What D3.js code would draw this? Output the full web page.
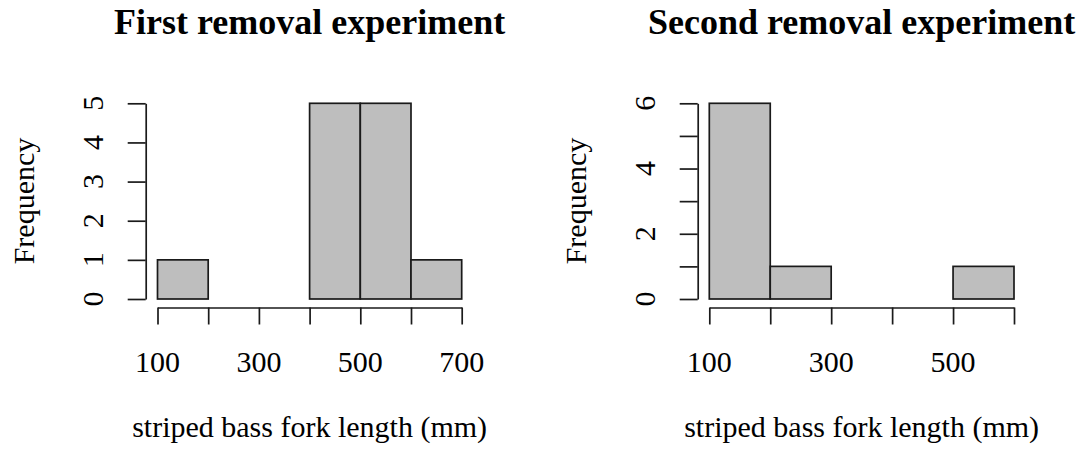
<!DOCTYPE html>
<html>
<head>
<meta charset="utf-8">
<script src="https://cdn.jsdelivr.net/npm/d3@7"></script>
<style>
  body { margin: 0; background: #fff; }
  text { font-family: "Liberation Serif", "Times New Roman", serif; fill: #000; }
</style>
</head>
<body>
<script>
// histogram data
var breaks1 = [100, 200, 300, 400, 500, 600, 700];
var counts1 = [1, 0, 0, 5, 5, 1];
var xTicks1 = [100, 200, 300, 400, 500, 600, 700];
var xLabels1 = [100, 300, 500, 700];
var yTicks1 = [0, 1, 2, 3, 4, 5];
var yLabels1 = [0, 1, 2, 3, 4, 5];

var breaks2 = [100, 200, 300, 400, 500, 600];
var counts2 = [6, 1, 0, 0, 1];
var xTicks2 = [100, 200, 300, 400, 500, 600];
var xLabels2 = [100, 300, 500];
var yTicks2 = [0, 1, 2, 3, 4, 5, 6];
var yLabels2 = [0, 2, 4, 6];

var titles = ['First removal experiment', 'Second removal experiment'];
var xTitle = 'striped bass fork length (mm)';
var yTitle = 'Frequency';

var w = 1085, h = 456;
var lineW = 1.7;

var svg = d3.select('body')
  .append('svg')
  .attr('width', w)
  .attr('height', h);

var drawHist = function(opt){
  var xScale = d3.scaleLinear()
    .domain([opt.breaks[0], opt.breaks[opt.breaks.length - 1]])
    .range([opt.x0, opt.x1]);
  var yScale = d3.scaleLinear()
    .domain([0, d3.max(opt.yTicks)])
    .range([299, 103.3]);

  var g = svg.append('g');

  var bins = opt.counts.map(function(c, i){
    return {x0: opt.breaks[i], x1: opt.breaks[i + 1], n: c};
  });

  g.selectAll('rect')
    .data(bins)
    .enter()
    .append('rect')
    .attr('x', function(d){ return xScale(d.x0); })
    .attr('y', function(d){ return yScale(d.n); })
    .attr('width', function(d){ return xScale(d.x1) - xScale(d.x0); })
    .attr('height', function(d){ return yScale(0) - yScale(d.n); })
    .attr('fill', '#bebebe')
    .attr('stroke', '#1a1a1a')
    .attr('stroke-width', lineW);

  // x axis, R style: line only from first to last tick
  var xAxisY = 307.5;
  var xAxis = d3.axisBottom(xScale)
    .tickValues(opt.xTicks)
    .tickSize(17)
    .tickSizeOuter(0)
    .tickFormat('');
  g.append('g')
    .attr('transform', 'translate(0,' + xAxisY + ')')
    .call(xAxis)
    .call(function(a){
      a.selectAll('path,line').attr('stroke', '#1a1a1a').attr('stroke-width', lineW);
    });
  g.selectAll('.xlab')
    .data(opt.xLabels)
    .enter()
    .append('text')
    .attr('class', 'xlab')
    .attr('x', function(d){ return xScale(d); })
    .attr('y', 372)
    .attr('text-anchor', 'middle')
    .attr('font-size', '30px')
    .text(function(d){ return d; });

  // y axis
  var yAxisX = opt.yAxisX;
  var yAxis = d3.axisLeft(yScale)
    .tickValues(opt.yTicks)
    .tickSize(18)
    .tickSizeOuter(0)
    .tickFormat('');
  g.append('g')
    .attr('transform', 'translate(' + yAxisX + ',0)')
    .call(yAxis)
    .call(function(a){
      a.selectAll('path,line').attr('stroke', '#1a1a1a').attr('stroke-width', lineW);
    });
  g.selectAll('.ylab')
    .data(opt.yLabels)
    .enter()
    .append('text')
    .attr('class', 'ylab')
    .attr('transform', function(d){
      return 'translate(' + (yAxisX - 43) + ',' + yScale(d) + ') rotate(-90)';
    })
    .attr('text-anchor', 'middle')
    .attr('font-size', '30px')
    .text(function(d){ return d; });

  // titles
  var cx = (opt.x0 + opt.x1) / 2;
  g.append('text')
    .attr('x', cx)
    .attr('y', 34)
    .attr('text-anchor', 'middle')
    .attr('font-size', '36px')
    .attr('font-weight', 'bold')
    .text(opt.title);
  g.append('text')
    .attr('x', cx)
    .attr('y', 437)
    .attr('text-anchor', 'middle')
    .attr('font-size', '30px')
    .text(xTitle);
  g.append('text')
    .attr('transform', 'translate(' + (yAxisX - 112) + ',' + 201 + ') rotate(-90)')
    .attr('text-anchor', 'middle')
    .attr('font-size', '30px')
    .text(yTitle);
};

drawHist({
  breaks: breaks1, counts: counts1,
  xTicks: xTicks1, xLabels: xLabels1,
  yTicks: yTicks1, yLabels: yLabels1,
  x0: 157.5, x1: 461.7, yAxisX: 145.7,
  title: titles[0]
});

drawHist({
  breaks: breaks2, counts: counts2,
  xTicks: xTicks2, xLabels: xLabels2,
  yTicks: yTicks2, yLabels: yLabels2,
  x0: 709.3, x1: 1014, yAxisX: 697.7,
  title: titles[1]
});
</script>
</body>
</html>
